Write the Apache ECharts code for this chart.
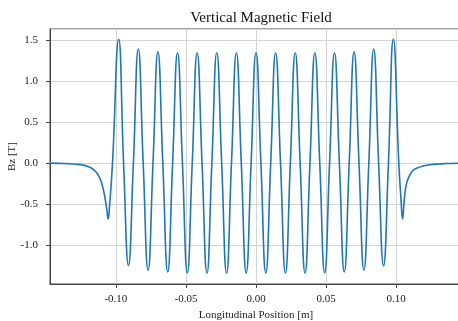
<!DOCTYPE html>
<html>
<head>
<meta charset="utf-8">
<script src="https://cdn.jsdelivr.net/npm/echarts@6/dist/echarts.min.js"></script>
<style>
  html, body { margin: 0; padding: 0; background: #fff; }
  #chart { width: 458px; height: 321px; }
</style>
</head>
<body>
<div id="chart"></div>
<script>
// longitudinal position [m] and field [T]
const xPos = [
  -0.147, -0.140, -0.134, -0.128, -0.124, -0.120, -0.117, -0.114, -0.112, -0.110, -0.108, -0.1065, -0.1055, -0.1045, -0.1024,
  -0.098, -0.0945, -0.091, -0.0875, -0.084, -0.0805, -0.077, -0.0735, -0.070, -0.0665,
  -0.063, -0.0595, -0.056, -0.0525, -0.049, -0.0455, -0.042, -0.0385, -0.035, -0.0315,
  -0.028, -0.0245, -0.021, -0.0175, -0.014, -0.0105, -0.007, -0.0035, 0.000,
  0.0035, 0.007, 0.0105, 0.014, 0.0175, 0.021, 0.0245, 0.028, 0.0315, 0.035, 0.0385,
  0.042, 0.0455, 0.049, 0.0525, 0.056, 0.0595, 0.063, 0.0665, 0.070, 0.0735,
  0.077, 0.0805, 0.084, 0.0875, 0.091, 0.0945, 0.098,
  0.1019, 0.1035, 0.1046, 0.1058, 0.1074, 0.1098, 0.112, 0.1146, 0.119, 0.124, 0.130, 0.136, 0.147
];
const bz = [
  0.000, -0.003, -0.006, -0.013, -0.022, -0.040, -0.065, -0.110, -0.165, -0.250, -0.400, -0.560, -0.680, -0.520, 0.000,
  1.51, 0, -1.245, 0, 1.39, 0, -1.305, 0, 1.355, 0,
  -1.325, 0, 1.345, 0, -1.335, 0, 1.345, 0, -1.34, 0,
  1.345, 0, -1.34, 0, 1.345, 0, -1.34, 0, 1.345,
  0, -1.34, 0, 1.345, 0, -1.34, 0, 1.345, 0, -1.34, 0,
  1.345, 0, -1.335, 0, 1.345, 0, -1.325, 0, 1.355, 0,
  -1.305, 0, 1.39, 0, -1.25, 0, 1.51,
  0, -0.45, -0.680, -0.45, -0.250, -0.143, -0.090, -0.061, -0.035, -0.020, -0.010, -0.005, 0.000
];

const chart = echarts.init(document.getElementById("chart"));

const serif = "Liberation Serif";
const gridColor = "#d4d4d4";

chart.setOption({
  animation: false,
  title: {
    text: "Vertical Magnetic Field",
    left: 256,
    textAlign: "center",
    top: 6,
    textStyle: { fontFamily: serif, fontSize: 15, fontWeight: "normal", color: "#111" },
  },
  grid: {
    left: 50,
    top: 29,
    right: -4,
    bottom: 37,
    outerBoundsMode: "none", // plot runs past the right edge, like the source
    show: true,
    borderColor: "#444",
    borderWidth: 1,
  },
  xAxis: {
    type: "value",
    min: -0.147,
    max: 0.147,
    name: "Longitudinal Position [m]",
    nameLocation: "middle",
    nameGap: 26,
    nameMoveOverlap: false,
    nameTextStyle: { fontFamily: serif, fontSize: 11, color: "#222" },
    axisLine: { onZero: false, lineStyle: { color: "#444" } },
    axisTick: { length: 4, lineStyle: { color: "#444" } },
    axisLabel: {
      showMinLabel: false,
      showMaxLabel: false,
      fontFamily: serif,
      fontSize: 11,
      color: "#222",
      margin: 10,
      formatter: (v) => v.toFixed(2),
    },
    splitLine: { lineStyle: { color: gridColor } },
  },
  yAxis: {
    type: "value",
    min: -1.472,
    max: 1.634,
    name: "Bz [T]",
    nameLocation: "middle",
    nameGap: 32,
    nameMoveOverlap: false,
    nameTextStyle: { fontFamily: serif, fontSize: 11, color: "#222" },
    axisLine: { onZero: false, lineStyle: { color: "#444" } },
    axisTick: { length: 4, lineStyle: { color: "#444" } },
    axisLabel: {
      showMinLabel: false,
      showMaxLabel: false,
      fontFamily: serif,
      fontSize: 11,
      color: "#222",
      margin: 12,
      formatter: (v) => v.toFixed(1),
    },
    splitLine: { lineStyle: { color: gridColor } },
  },
  series: [
    {
      type: "line",
      data: xPos.map((x, i) => [x, bz[i]]),
      showSymbol: false,
      smooth: 0.5,
      lineStyle: { color: "#1f77b4", width: 1.6 },
    },
  ],
});
</script>
</body>
</html>
